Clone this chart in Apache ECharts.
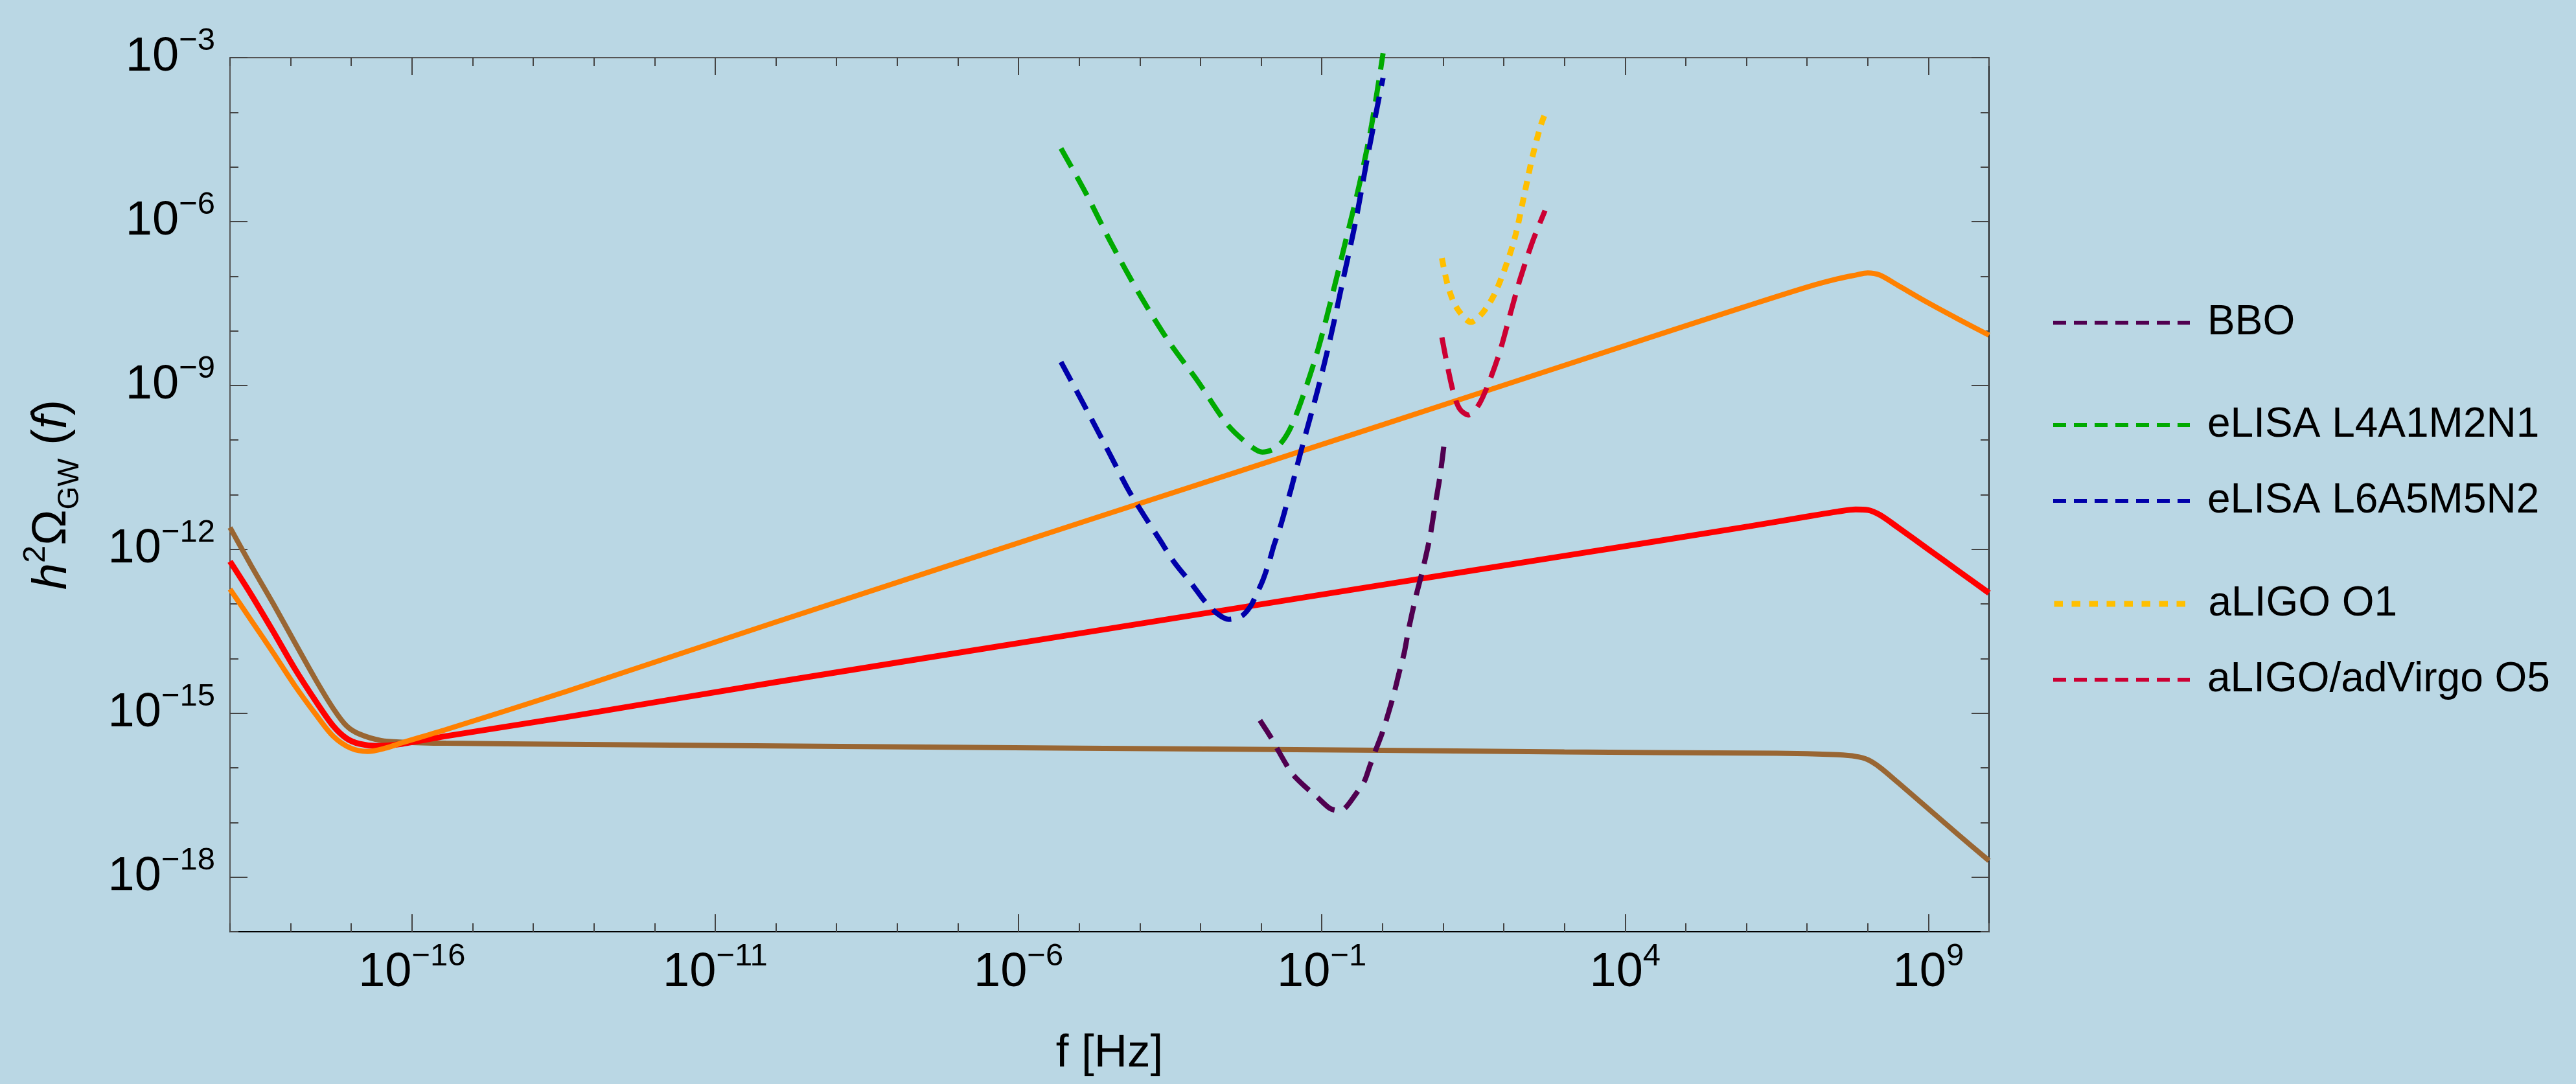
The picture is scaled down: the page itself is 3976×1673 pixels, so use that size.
<!DOCTYPE html>
<html>
<head>
<meta charset="utf-8">
<script src="https://cdn.jsdelivr.net/npm/echarts@6/dist/echarts.min.js"></script>
<style>
html,body{margin:0;padding:0;background:#bad7e4;}
#c{width:3976px;height:1673px;}
</style>
</head>
<body>
<div id="c"></div>
<script>
// ---------- data (log10 values) ----------
const xLabelExps = [-16, -11, -6, -1, 4, 9];
const yLabelExps = [-18, -15, -12, -9, -6, -3];

const brownF = [-19, -18.65, -18.29, -17.94, -17.58, -17.30, -17.08, -16.87, -16.51, -16.16, -15.44, -13.45, -10, -5, 0, 3, 6, 7.0, 7.5, 7.8, 8.0, 8.2, 8.5, 9.0, 9.5, 10];
const brownO = [-11.60, -12.30, -12.99, -13.69, -14.40, -14.91, -15.23, -15.38, -15.50, -15.53, -15.55, -15.57, -15.60, -15.64, -15.68, -15.71, -15.73, -15.74, -15.76, -15.79, -15.85, -15.99, -16.27, -16.75, -17.23, -17.70];

const redF = [-19, -18.65, -18.29, -17.94, -17.58, -17.30, -17.08, -16.87, -16.58, -16.16, -15.44, -13.45, -10, -5, 0, 3, 6.04, 7.0, 7.5, 7.8, 8.0, 8.2, 8.5, 9.0, 9.5, 10];
const redO = [-12.22, -12.83, -13.50, -14.17, -14.79, -15.23, -15.46, -15.56, -15.60, -15.56, -15.42, -15.07, -14.43, -13.54, -12.65, -12.12, -11.58, -11.40, -11.31, -11.27, -11.28, -11.37, -11.60, -12.00, -12.40, -12.80];

const orangeF = [-19, -18.65, -18.29, -17.94, -17.58, -17.30, -17.01, -16.73, -16.44, -16.16, -15.44, -13.45, -10, -4.61, 0, 4.44, 6.0, 7.0, 7.5, 7.8, 8.0, 8.2, 8.5, 9.0, 9.5, 10];
const orangeO = [-12.73, -13.30, -13.89, -14.48, -15.03, -15.42, -15.64, -15.70, -15.64, -15.54, -15.30, -14.60, -13.33, -11.38, -9.72, -8.11, -7.55, -7.20, -7.05, -6.98, -6.94, -6.98, -7.17, -7.49, -7.79, -8.08];

const bboF = [-2.02, -1.84, -1.74, -1.58, -1.47, -1.26, -1.08, -0.87, -0.74, -0.62, -0.44, -0.30, -0.21, -0.12, -0.01, 0.10, 0.19, 0.27, 0.36, 0.43, 0.55, 0.66, 0.78, 0.86, 0.95, 1.02];
const bboO = [-15.13, -15.44, -15.64, -15.95, -16.13, -16.36, -16.53, -16.74, -16.78, -16.74, -16.48, -16.25, -15.97, -15.70, -15.38, -14.99, -14.64, -14.28, -13.89, -13.47, -12.87, -12.39, -11.79, -11.25, -10.65, -10.04];

const lisa1F = [-5.30, -4.88, -4.47, -3.99, -3.52, -3.04, -2.56, -2.22, -1.98, -1.74, -1.54, -1.34, -1.06, -0.79, -0.59, -0.38, -0.18, 0.01];
const lisa1O = [-4.66, -5.50, -6.40, -7.36, -8.20, -8.93, -9.71, -10.07, -10.22, -10.13, -9.83, -9.29, -8.33, -7.18, -6.28, -5.32, -4.24, -2.92];

const lisa2F = [-5.30, -4.88, -4.47, -4.19, -3.93, -3.68, -3.43, -3.14, -2.93, -2.72, -2.54, -2.32, -2.18, -2.08, -1.97, -1.86, -1.79, -1.68, -1.58, -1.51, -1.34, -1.06, -0.86, -0.66, -0.45, -0.25, -0.04, 0.01];
const lisa2O = [-8.57, -9.44, -10.31, -10.91, -11.38, -11.81, -12.24, -12.64, -12.95, -13.18, -13.28, -13.22, -13.05, -12.83, -12.56, -12.20, -11.93, -11.57, -11.18, -10.91, -10.19, -9.05, -8.14, -7.12, -6.04, -4.84, -3.64, -3.37];

const o1F = [0.98, 1.08, 1.22, 1.46, 1.66, 1.86, 2.07, 2.20, 2.34, 2.48, 2.61, 2.68];
const o1O = [-6.67, -7.18, -7.57, -7.84, -7.66, -7.30, -6.70, -6.22, -5.50, -4.78, -4.24, -4.03];

const o5F = [0.98, 1.08, 1.18, 1.28, 1.42, 1.59, 1.76, 1.93, 2.10, 2.27, 2.48, 2.68];
const o5O = [-8.12, -8.69, -9.17, -9.44, -9.54, -9.35, -8.93, -8.40, -7.72, -7.05, -6.35, -5.80];

const detectorNames = ['BBO', 'eLISA L4A1M2N1', 'eLISA L6A5M5N2', 'aLIGO O1', 'aLIGO/adVirgo O5'];

// ---------- chart ----------
const FONT = '"Liberation Sans", Arial, sans-serif';
const pw = e => Math.pow(10, e);
const toData = (fx, fy) => fx.map((x, i) => [pw(x), pw(fy[i])]);
const X_MIN = -19, X_MAX = 10, Y_MIN = -19, Y_MAX = -3;
const decades = (a, b) => { const r = []; for (let e = a; e <= b; e++) r.push(pw(e)); return r; };

function expLabel(v) {
  const e = Math.round(Math.log10(v));
  return '{b|10}{s|' + (e < 0 ? '\u2212' + (-e) : String(e)) + '}';
}
const labelRich = {
  b: { fontSize: 74, lineHeight: 100, fontFamily: FONT, color: '#000' },
  s: { fontSize: 49, lineHeight: 48, verticalAlign: 'top', fontFamily: FONT, color: '#000' }
};

function xAxisDef(pos, major, main) {
  const vals = major ? xLabelExps.map(pw) : decades(X_MIN, X_MAX);
  return {
    type: 'log', logBase: 10, gridIndex: 0, position: pos,
    min: pw(X_MIN), max: pw(X_MAX),
    axisLine: { show: major, onZero: false, lineStyle: { color: pos === 'bottom' ? '#000' : '#555', width: 2 } },
    axisTick: { show: true, inside: true, length: major ? 27 : 13, customValues: vals, lineStyle: { color: '#444', width: 2 } },
    axisLabel: main ? {
      show: true, customValues: xLabelExps.map(pw), margin: 14, formatter: expLabel,
      fontSize: 74, lineHeight: 100, fontFamily: FONT, color: '#000', rich: labelRich
    } : { show: false },
    splitLine: { show: false }, minorTick: { show: false },
    name: main ? 'f [Hz]' : '', nameLocation: 'middle', nameGap: 146,
    nameTextStyle: { fontSize: 71, lineHeight: 84, fontFamily: FONT, color: '#000' },
    silent: true
  };
}
function yAxisDef(pos, major, main) {
  const vals = major ? yLabelExps.map(pw) : decades(Y_MIN, Y_MAX);
  return {
    type: 'log', logBase: 10, gridIndex: 0, position: pos,
    min: pw(Y_MIN), max: pw(Y_MAX),
    axisLine: { show: major, onZero: false, lineStyle: { color: pos === 'left' ? '#555' : '#222', width: 2 } },
    axisTick: { show: true, inside: true, length: major ? 27 : 13, customValues: vals, lineStyle: { color: '#444', width: 2 } },
    axisLabel: main ? {
      show: true, customValues: yLabelExps.map(pw), margin: 23, formatter: expLabel,
      fontSize: 74, lineHeight: 100, fontFamily: FONT, color: '#000', rich: labelRich
    } : { show: false },
    splitLine: { show: false }, minorTick: { show: false },
    name: main ? '{i|h}{sup|2}{n|\u03A9}{sub|GW}{n| (}{i|f}{n|)}' : '',
    nameLocation: 'middle', nameRotate: 90, nameGap: 224,
    nameTextStyle: main ? {
      fontSize: 74, lineHeight: 100, fontFamily: FONT, color: '#000',
      rich: {
        i: { fontSize: 74, lineHeight: 100, fontStyle: 'italic', fontFamily: FONT, color: '#000' },
        n: { fontSize: 74, lineHeight: 100, fontFamily: FONT, color: '#000' },
        sup: { fontSize: 49, lineHeight: 48, verticalAlign: 'top', fontFamily: FONT, color: '#000' },
        sub: { fontSize: 46, lineHeight: 72, verticalAlign: 'bottom', fontFamily: FONT, color: '#000' }
      }
    } : {},
    silent: true
  };
}

function lineSeries(name, fx, fy, color, width, dash, z, extra) {
  return Object.assign({
    name: name, type: 'line', xAxisIndex: 0, yAxisIndex: 0,
    data: toData(fx, fy), showSymbol: false, symbol: 'none',
    smooth: 0.3, z: z, silent: true, animation: false,
    lineStyle: { color: color, width: width, type: dash || 'solid', cap: 'butt' },
    itemStyle: { color: color },
    emphasis: { disabled: true }
  }, extra || {});
}

const dashA = [33, 17];
const dashDot = [14, 12];
const detectorColors = ['#500050', '#00aa00', '#0000aa', '#ffbf00', '#cc0033'];

const legendTops = [493, 651, 768, 927, 1044];
const legends = detectorNames.map((n, i) => ({
  data: [n], left: 3161, top: legendTops[i] - 35, orient: 'vertical',
  itemWidth: 211, itemHeight: 20, selectedMode: false,
  itemStyle: { opacity: 0 },
  lineStyle: i === 3 ? { type: [13.5, 13.5], width: 9, color: detectorColors[i] } : { type: [20, 12], width: 6, color: detectorColors[i] },
  textStyle: { fontSize: 64, lineHeight: 70, fontFamily: FONT, color: '#000', padding: [0, 0, 0, 22] }
}));

const option = {
  backgroundColor: '#bad7e4',
  animation: false,
  grid: { left: 355, right: 906, top: 89, bottom: 227, containLabel: false },
  legend: legends,
  xAxis: [xAxisDef('bottom', true, true), xAxisDef('bottom', false, false), xAxisDef('top', true, false), xAxisDef('top', false, false)],
  yAxis: [yAxisDef('left', true, true), yAxisDef('left', false, false), yAxisDef('right', true, false), yAxisDef('right', false, false)],
  series: [
    lineSeries('brown', brownF, brownO, '#996633', 8, null, 2),
    lineSeries('red', redF, redO, '#ff0000', 9, null, 3),
    lineSeries('orange', orangeF, orangeO, '#ff8000', 8, null, 4),
    lineSeries(detectorNames[0], bboF, bboO, detectorColors[0], 8, dashA, 6),
    lineSeries(detectorNames[1], lisa1F, lisa1O, detectorColors[1], 8, dashA, 6, { clip: false }),
    lineSeries(detectorNames[2], lisa2F, lisa2O, detectorColors[2], 8, dashA, 7),
    lineSeries(detectorNames[3], o1F, o1O, detectorColors[3], 9, dashDot, 6),
    lineSeries(detectorNames[4], o5F, o5O, detectorColors[4], 8, dashA, 6)
  ]
};

const chart = echarts.init(document.getElementById('c'), null, { renderer: 'canvas', width: 3976, height: 1673 });
chart.setOption(option);
</script>
</body>
</html>
